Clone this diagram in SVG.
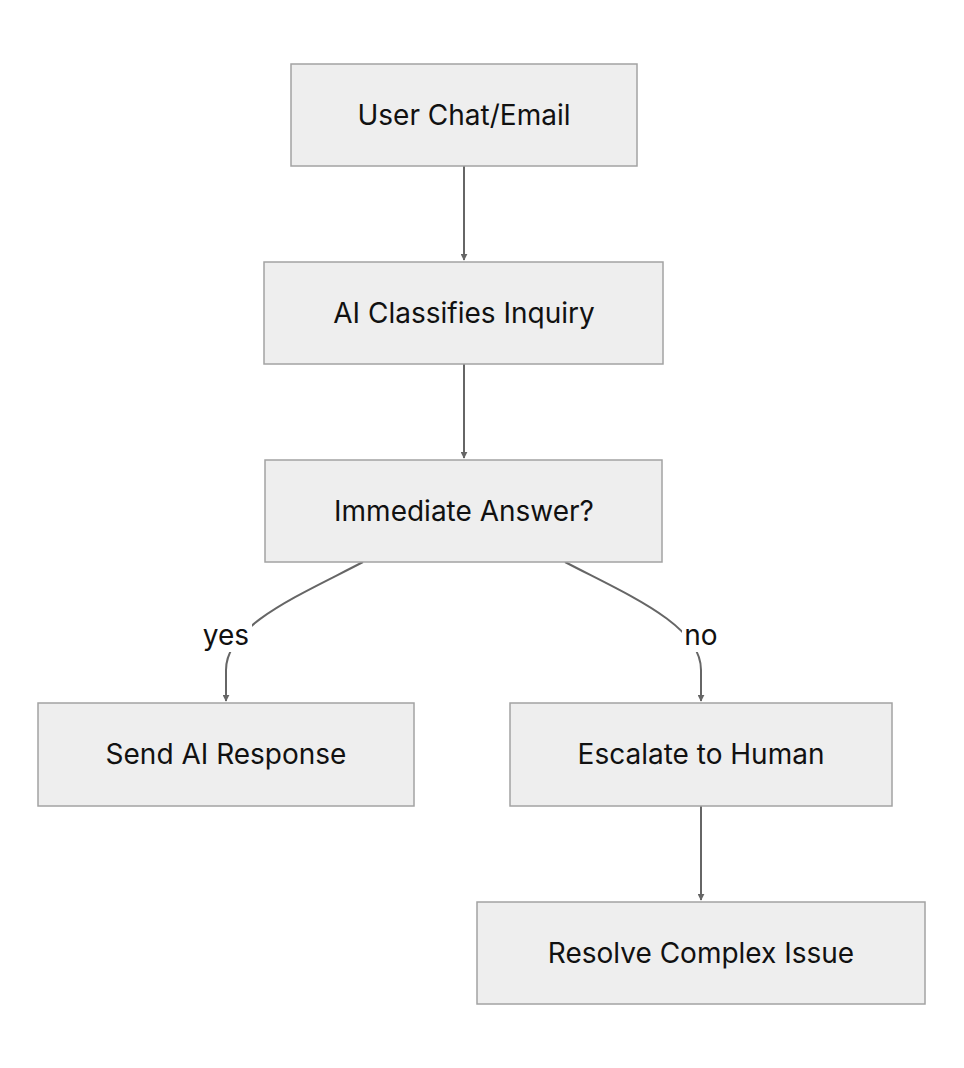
<svg xmlns="http://www.w3.org/2000/svg" width="964" height="1068" viewBox="0 0 964 1068">
<style>
.n rect{fill:#eeeeee;stroke:#a3a3a3;stroke-width:1.5}
.n text,.l{font-family:Inter,"Liberation Sans",sans-serif;font-size:28px;fill:#111;text-anchor:middle;dominant-baseline:central}
.e path{fill:none;stroke:#666;stroke-width:2;marker-end:url(#a)}
</style>
<defs><marker id="a" viewBox="0 0 10 10" refX="9" refY="5" markerWidth="7" markerHeight="7" markerUnits="userSpaceOnUse" orient="auto"><path d="M0,0L10,5L0,10z" fill="#666"/></marker></defs>
<rect width="964" height="1068" fill="#fff"/>
<g class="e">
<path d="M464,166V260"/>
<path d="M464,364V458"/>
<path d="M363,562C300,595 226,625 226,670V701"/>
<path d="M565,562C628,595 701,625 701,670V701"/>
<path d="M701,806V900"/>
</g>
<rect x="200" y="618" width="52" height="34" fill="#fff"/>
<text class="l" x="226" y="635">yes</text>
<rect x="682" y="618" width="40" height="34" fill="#fff"/>
<text class="l" x="701" y="635">no</text>
<g class="n" id="n1"><rect x="291" y="64" width="346" height="102"/><text x="464" y="115">User Chat/Email</text></g>
<g class="n" id="n2"><rect x="264" y="262" width="399" height="102"/><text x="464" y="313">AI Classifies Inquiry</text></g>
<g class="n" id="n3"><rect x="265" y="460" width="397" height="102"/><text x="464" y="511">Immediate Answer?</text></g>
<g class="n" id="n4"><rect x="38" y="703" width="376" height="103"/><text x="226" y="754">Send AI Response</text></g>
<g class="n" id="n5"><rect x="510" y="703" width="382" height="103"/><text x="701" y="754">Escalate to Human</text></g>
<g class="n" id="n6"><rect x="477" y="902" width="448" height="102"/><text x="701" y="953">Resolve Complex Issue</text></g>
</svg>
